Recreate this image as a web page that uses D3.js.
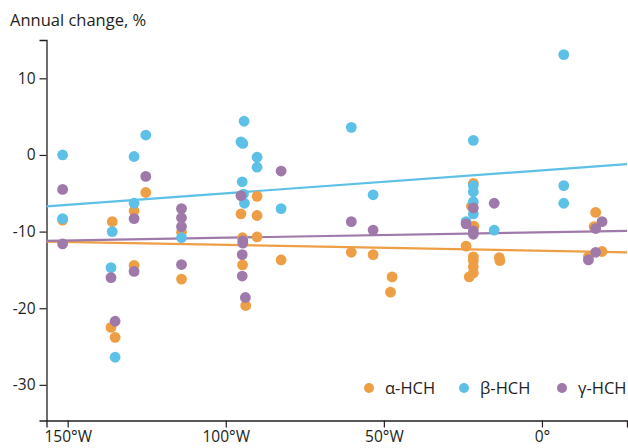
<!DOCTYPE html>
<html>
<head>
<meta charset="utf-8">
<script src="https://cdn.jsdelivr.net/npm/d3@7"></script>
<style>
  body { margin: 0; background: #fff; }
  text { font-family: "Open Sans", "Noto Sans", sans-serif; fill: #231f20; }
</style>
</head>
<body>
<div id="chart"></div>
<script>
// [longitude, annual change %], west is negative
var alpha = [
  [-151.6,-8.5],
  [-135.9,-8.7],[-136.3,-22.5],[-135,-23.8],
  [-129,-7.3],[-129,-14.4],[-125.3,-4.9],
  [-114,-10.1],[-114,-16.2],
  [-95.2,-7.7],[-94.7,-10.8],[-94.7,-14.35],[-93.7,-19.65],
  [-90.1,-5.4],[-90.1,-7.9],[-90.1,-10.7],
  [-82.5,-13.7],
  [-60.3,-12.7],[-53.4,-13],[-47.4,-15.9],[-47.9,-17.9],
  [-21.7,-3.7],[-22.3,-6.7],[-21.5,-9.3],[-24,-11.9],[-21.7,-13.3],[-21.7,-13.8],
  [-21.7,-14.6],[-21.7,-15.4],[-23,-15.9],
  [-13.5,-13.4],[-13.3,-13.8],
  [17,-7.5],[16.5,-9.35],[19,-12.6],[14.7,-13.3]
];
var beta = [
  [-151.6,0],[-151.6,-8.3],
  [-135.9,-10],[-136.3,-14.7],[-135,-26.4],
  [-129,-0.2],[-125.3,2.6],[-129,-6.3],
  [-114,-10.8],
  [-94.2,4.4],[-95.2,1.7],[-94.6,1.5],[-94.8,-3.5],[-94.4,-5.1],[-94.1,-6.3],
  [-90.1,-0.3],[-90.1,-1.6],
  [-82.5,-7],
  [-60.3,3.6],[-53.4,-5.2],
  [-21.7,1.9],[-21.7,-4],[-21.7,-4.8],[-21.7,-6.1],[-21.7,-7.7],[-24,-8.7],
  [-15.1,-9.8],
  [6.9,13.1],[6.9,-4],[6.9,-6.3]
];
var gamma = [
  [-151.6,-4.5],[-151.6,-11.6],
  [-136.3,-16],[-135,-21.7],
  [-125.3,-2.8],[-129,-8.3],[-129,-15.2],
  [-114,-7],[-114,-8.2],[-114,-9.35],[-114,-14.3],
  [-95.2,-5.3],[-94.6,-11.2],[-94.6,-11.5],[-94.8,-13],[-94.8,-15.8],[-93.8,-18.6],
  [-82.5,-2.1],
  [-60.3,-8.7],[-53.4,-9.8],
  [-21.7,-6.9],[-24,-9],[-21.7,-9.9],[-21.7,-10.35],
  [-15.1,-6.3],
  [19,-8.7],[17,-9.6],[17,-12.7],[14.7,-13.7]
];

// trend lines, value at the left and right ends of the x domain
var trendAlpha = [-11.3, -12.7];
var trendBeta = [-6.7, -1.2];
var trendGamma = [-11.2, -9.9];

var names = ["α-HCH", "β-HCH", "γ-HCH"];
var colors = ["#ee9e45", "#5dc0e6", "#9e79aa"];

var xTicks = [-150, -100, -50, 0];
var yTicks = [10, 0, -10, -20, -30];

var width = 628, height = 448;
var xDomain = [-156.7, 26.9];

var svg = d3.select("#chart")
  .append("svg")
    .attr("width", width)
    .attr("height", height)

var x = d3.scaleLinear().domain(xDomain).range([46.5, 627]);
var y = d3.scaleLinear().domain([-34.65, 15]).range([420.5, 40]);

// axes
svg.append("g")
    .attr("transform", "translate(0,420.5)")
    .call(d3.axisBottom(x).tickValues(xTicks).tickSize(7).tickPadding(3)
      .tickFormat(function(d) { return d < 0 ? (-d) + "°W" : d + "°"; }))
    .call(function(g) {
      g.select(".domain").attr("stroke", "#231f20").attr("stroke-width", 1.3);
      g.selectAll(".tick line").attr("stroke", "#231f20").attr("stroke-width", 1.2);
      g.selectAll("text").style("font-size", "15.5px").attr("fill", "#231f20");
    });

// plain hyphen for negatives, like the original
svg.append("g")
    .attr("transform", "translate(46.5,0)")
    .call(d3.axisLeft(y).tickValues(yTicks).tickSize(7).tickPadding(4)
      .tickFormat(function(d) { return String(d); }))
    .call(function(g) {
      g.select(".domain").attr("stroke", "#231f20").attr("stroke-width", 1.3);
      g.selectAll(".tick line").attr("stroke", "#231f20").attr("stroke-width", 1.2);
      g.selectAll("text").style("font-size", "15.5px").attr("fill", "#231f20");
    });

svg.append("text")
    .attr("x", 10)
    .attr("y", 26)
    .style("font-size", "16.5px")
    .text("Annual change, %")

// trend lines under the points
var trends = [trendAlpha, trendBeta, trendGamma];
trends.forEach(function(t, i) {
  svg.append("line")
    .attr("x1", x(xDomain[0])).attr("y1", y(t[0]))
    .attr("x2", x(xDomain[1])).attr("y2", y(t[1]))
    .attr("stroke", colors[i])
    .attr("stroke-width", 2.2)
});

var series = [alpha, beta, gamma];
series.forEach(function(s, i) {
  svg.append("g")
    .selectAll("circle")
    .data(s)
    .enter()
    .append("circle")
      .attr("cx", function(d) { return x(d[0]); })
      .attr("cy", function(d) { return y(d[1]); })
      .attr("r", 5.4)
      .attr("fill", colors[i])
});

// legend
var legendX = [369, 464, 562];
var legend = svg.append("g")
  .selectAll("g")
  .data(names)
  .enter()
  .append("g")
    .attr("transform", function(d, i) { return "translate(" + legendX[i] + ",388)"; })
legend.append("circle")
    .attr("r", 5)
    .attr("fill", function(d, i) { return colors[i]; })
legend.append("text")
    .attr("x", 16)
    .attr("dy", "0.35em")
    .style("font-size", "16.5px")
    .text(function(d) { return d; })
</script>
</body>
</html>
